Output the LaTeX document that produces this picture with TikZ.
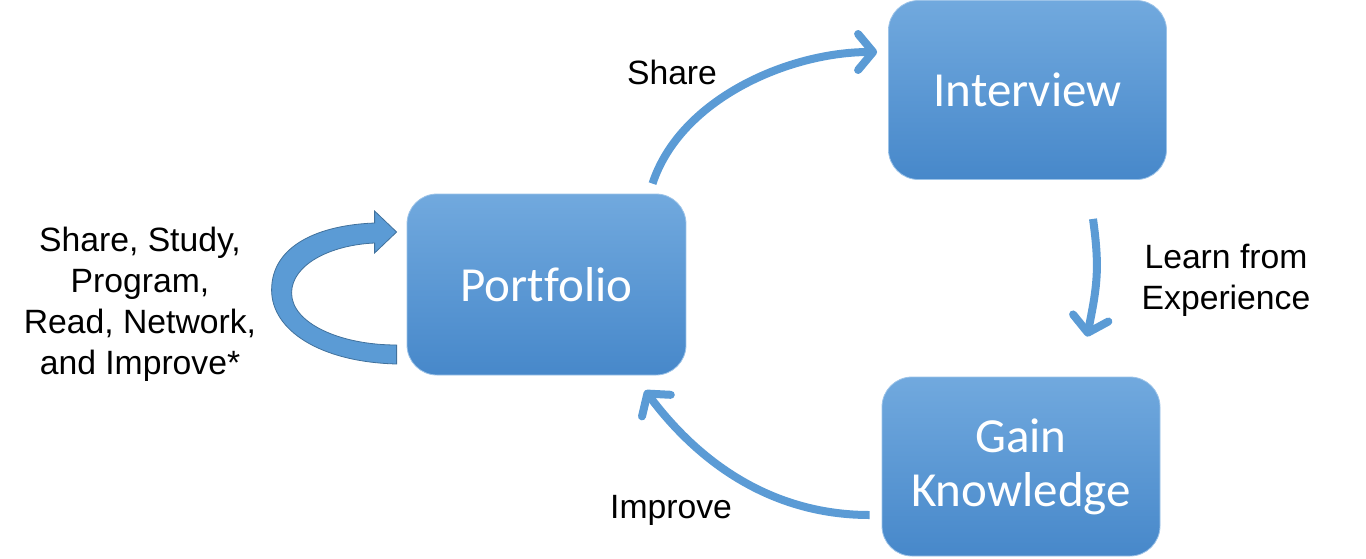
\documentclass[tikz,border=0pt]{standalone}
\usepackage{fontspec}
\setmainfont{Liberation Sans}
\newfontfamily\boxfont[Ligatures=CommonOff]{Carlito}
\usetikzlibrary{calc}
\usetikzlibrary{positioning,arrows.meta}
\definecolor{flowblue}{HTML}{5B9BD5}
\definecolor{boxtop}{HTML}{71A9DE}
\definecolor{boxbot}{HTML}{4788CA}
\definecolor{loopedge}{HTML}{41719C}
\tikzset{
    stage/.style={
        rounded corners=30pt,
        top color=boxtop, bottom color=boxbot,
        draw=boxtop!70!white, line width=0.8pt,
        text=white, align=center,
        minimum width=278pt, minimum height=179pt,
        font=\boxfont\fontsize{49}{54}\selectfont
    },
    flow/.style={
        draw=flowblue, line width=8pt,
        -{Straight Barb[length=15pt, width=36pt, round]}
    },
    lbl/.style={align=center, font=\fontsize{33.7}{41}\selectfont}
}

\begin{document}
\begin{tikzpicture}[x=1pt, y=-1pt]
\useasboundingbox (0,0) rectangle (1366,558);

% ==== stages ====
\node[stage] (interview) at (1027.5,90) {Interview};
\node[stage, minimum width=279pt, minimum height=181pt] (portfolio) at (546.5,284.5) {Portfolio};
\node[stage] (gain) at (1021,466.5) {Gain\\Knowledge};

% ==== labels ====
\node[lbl] (sharelbl) at (672,72) {Share};
\node[lbl] (learnlbl) at (1226,280) {Learn from\\Experience};
\node[lbl] (improvelbl) at (671,510) {Improve};
\node[lbl] (activities) at (140,304) {Share, Study,\\Program,\\Read, Network,\\and Improve*};

% ==== flow arrows ====
% Portfolio -> Interview
\draw[flow] ($(portfolio.north)+(106,-10)$)
    .. controls +(28,-85) and +(-88,0) .. ($(interview.west)+(-11,-38)$);
% Interview -> Gain Knowledge
\draw[flow] ($(interview.south)+(65.5,39)$)
    .. controls +(7,50) and +(10,-50) .. ($(gain.north)+(66,-40)$);
% Gain Knowledge -> Portfolio
\draw[flow] ($(gain.west)+(-12,48.5)$)
    .. controls +(-90,0) and +(60,80) .. ($(portfolio.south)+(98.5,15)$);

% ==== self loop (block arrow) ====
\begin{scope}[shift={(portfolio.west)}]
\filldraw[fill=flowblue, draw=loopedge, line width=0.8pt]
    (-10,79.5) .. controls (-87,77.5) and (-135,45.5) .. (-135,5.5)
    .. controls (-135,-39.5) and (-87,-59.5) .. (-32,-61.5)
    -- (-32,-73.5) -- (-10,-52.5) -- (-32,-31.5) -- (-32,-41.5)
    .. controls (-77,-39.5) and (-115,-19.5) .. (-115,8.5)
    .. controls (-115,38.5) and (-67,60.5) .. (-10,60.5) -- cycle;
\end{scope}

\end{tikzpicture}
\end{document}
